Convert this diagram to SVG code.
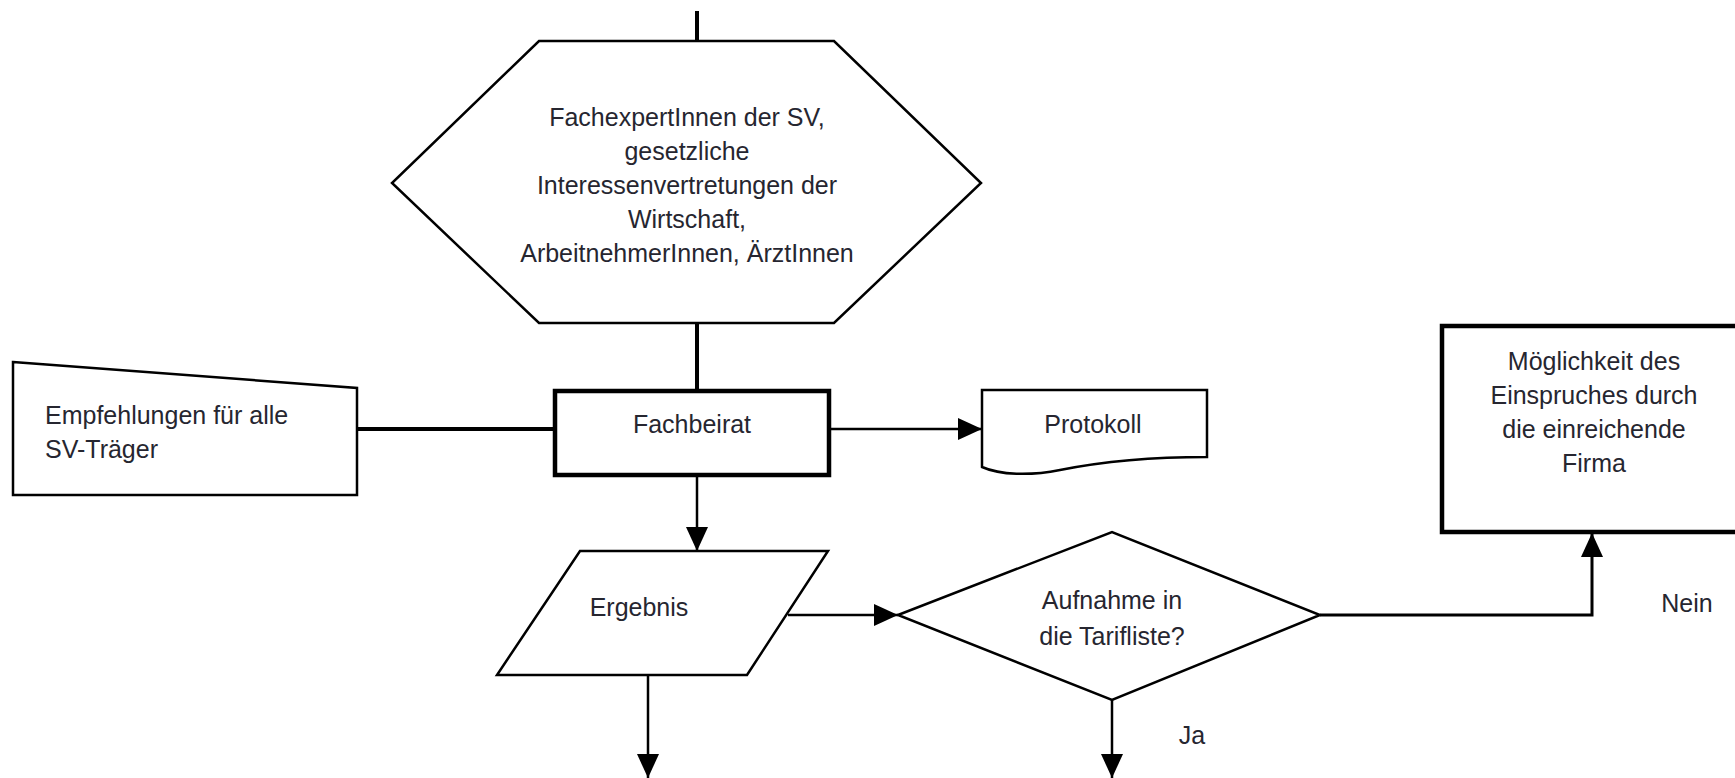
<svg xmlns="http://www.w3.org/2000/svg" width="1735" height="778" viewBox="0 0 1735 778">
<style>
.shape{fill:#fff;stroke:#000;stroke-width:2.5;stroke-linejoin:miter}
.thick{fill:#fff;stroke:#000;stroke-width:4.5}
.t{font-family:"Liberation Sans",Arial,sans-serif;font-size:25px;fill:#262630}
.c{text-anchor:middle}
.ln{fill:none;stroke:#000;stroke-width:2.5}
.lnb{fill:none;stroke:#000;stroke-width:4}
</style>
<defs>
<marker id="ah" markerUnits="userSpaceOnUse" markerWidth="24" markerHeight="22" refX="24" refY="11" orient="auto">
<path d="M0,0 L24,11 L0,22 Z" fill="#000"/>
</marker>
</defs>
<rect width="1735" height="778" fill="#fff"/>
<g id="connectors">
<line class="lnb" x1="697" y1="11" x2="697" y2="42"/>
<line class="lnb" x1="697" y1="323" x2="697" y2="391"/>
<line class="lnb" x1="357" y1="429" x2="554" y2="429"/>
<line class="ln" x1="829" y1="429" x2="982" y2="429" marker-end="url(#ah)"/>
<line class="ln" x1="697" y1="475" x2="697" y2="551" marker-end="url(#ah)"/>
<line class="ln" x1="788" y1="615" x2="898" y2="615" marker-end="url(#ah)"/>
<polyline class="ln" points="1320,615 1592,615 1592,533" marker-end="url(#ah)" style="stroke-width:3"/>
<line class="ln" x1="1112" y1="700" x2="1112" y2="778" marker-end="url(#ah)"/>
<line class="ln" x1="648" y1="675" x2="648" y2="778" marker-end="url(#ah)"/>
</g>
<g id="experten">
<polygon class="shape" points="539,41 834,41 981,183 834,323 539,323 392,183"/>
<text class="t c" x="687" y="126">FachexpertInnen der SV,</text>
<text class="t c" x="687" y="160">gesetzliche</text>
<text class="t c" x="687" y="194">Interessenvertretungen der</text>
<text class="t c" x="687" y="228">Wirtschaft,</text>
<text class="t c" x="687" y="262">ArbeitnehmerInnen, ÄrztInnen</text>
</g>
<g id="empfehlungen">
<polygon class="shape" points="13,362 357,388 357,495 13,495"/>
<text class="t" x="45" y="424">Empfehlungen für alle</text>
<text class="t" x="45" y="458">SV-Träger</text>
</g>
<g id="fachbeirat">
<rect class="thick" x="555" y="391" width="274" height="84"/>
<text class="t c" x="692" y="433">Fachbeirat</text>
</g>
<g id="protokoll">
<path class="shape" d="M982,390 L1207,390 L1207,457 C1150,457 1100,462 1060,470 C1030,476 1000,475 982,467 Z"/>
<text class="t c" x="1093" y="433">Protokoll</text>
</g>
<g id="ergebnis">
<polygon class="shape" points="580,551 828,551 747,675 497,675"/>
<text class="t c" x="639" y="616">Ergebnis</text>
</g>
<g id="entscheidung">
<polygon class="shape" points="898,615 1112,532 1320,615 1112,700"/>
<text class="t c" x="1112" y="609">Aufnahme in</text>
<text class="t c" x="1112" y="645">die Tarifliste?</text>
</g>
<g id="einspruch">
<rect class="thick" x="1442" y="326" width="310" height="206"/>
<text class="t c" x="1594" y="370">Möglichkeit des</text>
<text class="t c" x="1594" y="404">Einspruches durch</text>
<text class="t c" x="1594" y="438">die einreichende</text>
<text class="t c" x="1594" y="472">Firma</text>
</g>
<g id="labels">
<text class="t c" x="1687" y="612">Nein</text>
<text class="t c" x="1192" y="744">Ja</text>
</g>
</svg>
